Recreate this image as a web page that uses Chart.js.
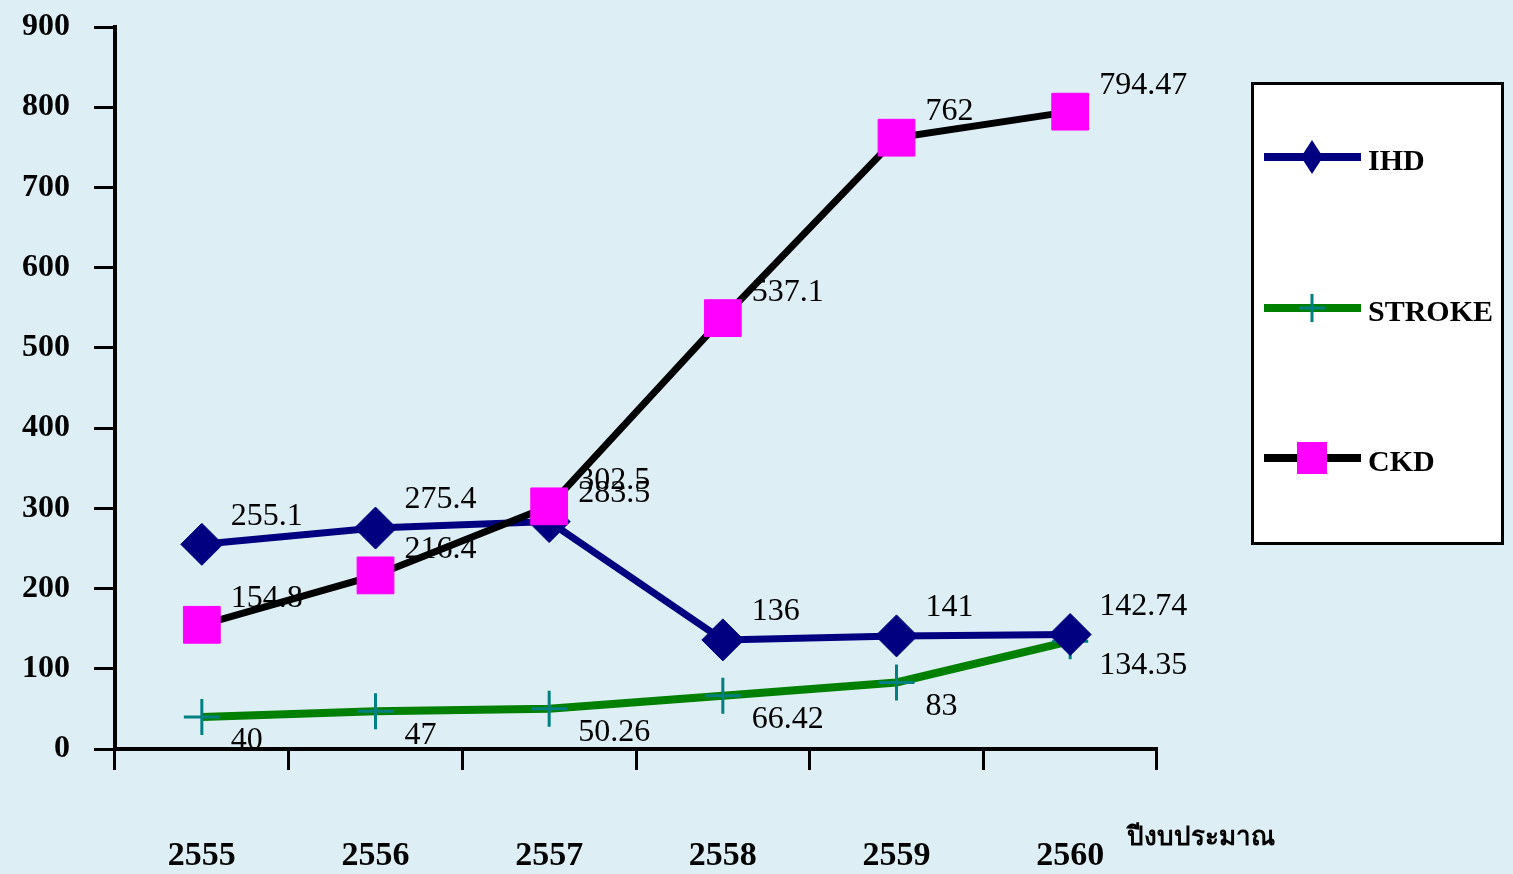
<!DOCTYPE html>
<html lang="th">
<head>
    <meta charset="UTF-8">
    <title>IHD / STROKE / CKD</title>
    <script src="https://cdn.jsdelivr.net/npm/chart.js"></script>
    <style>
        body { margin: 0; background: rgb(221, 238, 244); }
        #wrap { position: relative; width: 1513px; height: 874px; }
    </style>
</head>
<body>
    <div id="wrap"><canvas id="chart"></canvas></div>

    <script>
        // datos
        const years = ["2555", "2556", "2557", "2558", "2559", "2560"];
        const ihd = [255.1, 275.4, 283.5, 136, 141, 142.74];
        const stroke = [40, 47, 50.26, 66.42, 83, 134.35];
        const ckd = [154.8, 216.4, 302.5, 537.1, 762, 794.47];
        const seriesNames = ["IHD", "STROKE", "CKD"];
        const yTicks = [0, 100, 200, 300, 400, 500, 600, 700, 800, 900];
        const xTitle = "ปีงบประมาณ";

        const serif = '"Liberation Serif", "Times New Roman", serif';

        // etiquetas de valores junto a cada punto
        const valueLabels = {
            id: "valueLabels",
            afterDatasetsDraw(chart) {
                const ctx = chart.ctx;
                ctx.save();
                ctx.font = "32px " + serif;
                ctx.fillStyle = "#000";
                ctx.textAlign = "left";
                ctx.textBaseline = "middle";
                chart.data.datasets.forEach((ds, i) => {
                    const meta = chart.getDatasetMeta(i);
                    meta.data.forEach((pt, j) => {
                        ctx.fillText(String(ds.data[j]), pt.x + 29, pt.y + ds.labelDy);
                    });
                });
                ctx.restore();
            }
        };

        function marker(ctx, style, x, y, color) {
            ctx.fillStyle = color;
            ctx.strokeStyle = color;
            if (style === "diamond") {
                ctx.beginPath();
                ctx.moveTo(x, y - 17);
                ctx.lineTo(x + 11, y);
                ctx.lineTo(x, y + 17);
                ctx.lineTo(x - 11, y);
                ctx.closePath();
                ctx.fill();
            } else if (style === "cross") {
                ctx.lineWidth = 3;
                ctx.beginPath();
                ctx.moveTo(x - 13, y); ctx.lineTo(x + 13, y);
                ctx.moveTo(x, y - 14); ctx.lineTo(x, y + 14);
                ctx.stroke();
            } else {
                ctx.fillRect(x - 15, y - 16, 30, 32);
            }
        }

        // leyenda en caja blanca + titulo del eje x
        const boxLegend = {
            id: "boxLegend",
            afterDraw(chart) {
                const ctx = chart.ctx;
                ctx.save();
                ctx.fillStyle = "#fff";
                ctx.fillRect(1251, 82, 253, 463);
                ctx.strokeStyle = "#000";
                ctx.lineWidth = 3;
                ctx.strokeRect(1252.5, 83.5, 250, 460);

                const rows = [157, 308, 458];
                const styles = ["diamond", "cross", "square"];
                chart.data.datasets.forEach((ds, i) => {
                    const k = seriesNames.indexOf(ds.label);
                    const y = rows[k];
                    ctx.strokeStyle = ds.borderColor;
                    ctx.lineWidth = 8;
                    ctx.beginPath();
                    ctx.moveTo(1264, y);
                    ctx.lineTo(1361, y);
                    ctx.stroke();
                    marker(ctx, styles[k], 1312, y, ds.pointBorderColor);
                    ctx.fillStyle = "#000";
                    ctx.font = "bold 30px " + serif;
                    ctx.textAlign = "left";
                    ctx.textBaseline = "middle";
                    ctx.fillText(ds.label, 1368, y + 5);
                });

                ctx.font = "bold 26px " + serif;
                ctx.fillText(xTitle, 1127, 838);
                ctx.restore();
            }
        };

        new Chart(document.getElementById("chart"), {
            type: "line",
            data: {
                labels: years,
                datasets: [
                    {
                        label: "IHD",
                        data: ihd,
                        borderColor: "#000080",
                        borderWidth: 7,
                        pointStyle: "rectRot",
                        pointRadius: 21,
                        pointBackgroundColor: "#000080",
                        pointBorderColor: "#000080",
                        pointBorderWidth: 1,
                        labelDy: -28,
                        order: 1
                    },
                    {
                        label: "STROKE",
                        data: stroke,
                        borderColor: "#008000",
                        borderWidth: 8,
                        pointStyle: "cross",
                        pointRadius: 18,
                        pointBorderColor: "#008080",
                        pointBorderWidth: 3,
                        labelDy: 24,
                        order: 2
                    },
                    {
                        label: "CKD",
                        data: ckd,
                        borderColor: "#000000",
                        borderWidth: 7,
                        pointStyle: "rect",
                        pointRadius: 26,
                        pointBackgroundColor: "#ff00ff",
                        pointBorderColor: "#ff00ff",
                        pointBorderWidth: 1,
                        labelDy: -26,
                        order: 0
                    }
                ]
            },
            options: {
                responsive: true,
                maintainAspectRatio: false,
                animation: false,
                layout: { padding: { top: 19, right: 356, bottom: 0, left: 0 } },
                plugins: {
                    legend: { display: false },
                    tooltip: { enabled: false }
                },
                elements: { line: { tension: 0 } },
                scales: {
                    x: {
                        offset: true,
                        grid: {
                            offset: true,
                            drawOnChartArea: false,
                            tickLength: 21,
                            tickWidth: 3,
                            tickColor: "#000"
                        },
                        border: { color: "#000", width: 4 },
                        ticks: {
                            color: "#000",
                            padding: 66,
                            maxRotation: 0,
                            font: { family: serif, size: 34, weight: "bold" }
                        },
                        afterFit(scale) { scale.height = 125; }
                    },
                    y: {
                        min: 0,
                        max: 900,
                        afterBuildTicks(scale) { scale.ticks = yTicks.map(v => ({ value: v })); },
                        grid: {
                            drawOnChartArea: false,
                            tickLength: 21,
                            tickWidth: 3,
                            tickColor: "#000"
                        },
                        border: { color: "#000", width: 4 },
                        ticks: {
                            color: "#000",
                            padding: 24,
                            font: { family: serif, size: 32, weight: "bold" }
                        },
                        afterFit(scale) {
                            scale.width = 115;
                            scale.paddingTop = 0;
                            scale.paddingBottom = 0;
                        }
                    }
                }
            },
            plugins: [valueLabels, boxLegend]
        });
    </script>
</body>
</html>
